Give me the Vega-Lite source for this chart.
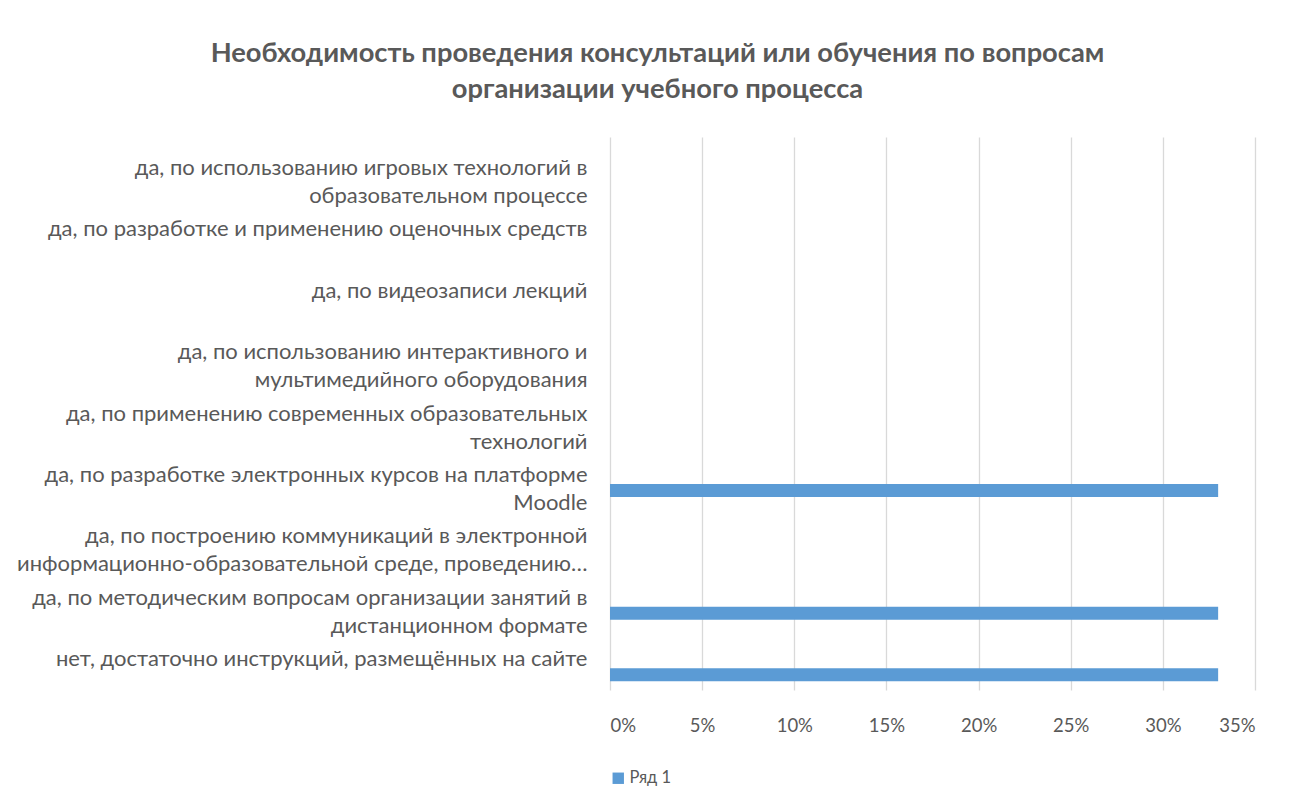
{
  "$schema": "https://vega.github.io/schema/vega-lite/v6.json",
  "width": 645,
  "height": 553,
  "autosize": {"type": "none"},
  "padding": {"left": 610, "top": 137, "right": 39, "bottom": 117},
  "background": "white",
  "title": {
    "text": ["Необходимость проведения консультаций или обучения по вопросам", "организации учебного процесса"],
    "anchor": "middle",
    "dx": -275,
    "offset": 34,
    "font": "Lato",
    "fontSize": 27.3,
    "fontWeight": "bold",
    "color": "#595959",
    "lineHeight": 36
  },
  "data": {
    "values": [
      {"category": "да, по использованию игровых технологий в|образовательном процессе", "value": 0, "series": "Ряд 1"},
      {"category": "да, по разработке и применению оценочных средств", "value": 0, "series": "Ряд 1"},
      {"category": "да, по видеозаписи лекций", "value": 0, "series": "Ряд 1"},
      {"category": "да, по использованию интерактивного и|мультимедийного оборудования", "value": 0, "series": "Ряд 1"},
      {"category": "да, по применению современных образовательных|технологий", "value": 0, "series": "Ряд 1"},
      {"category": "да, по разработке электронных курсов на платформе|Moodle", "value": 0.33, "series": "Ряд 1"},
      {"category": "да, по построению коммуникаций в электронной|информационно-образовательной среде, проведению…", "value": 0, "series": "Ряд 1"},
      {"category": "да, по методическим вопросам организации занятий в|дистанционном формате", "value": 0.33, "series": "Ряд 1"},
      {"category": "нет, достаточно инструкций, размещённых на сайте", "value": 0.33, "series": "Ряд 1"}
    ]
  },
  "mark": {"type": "bar", "height": 13, "yOffset": 15.5},
  "encoding": {
    "y": {
      "field": "category",
      "type": "nominal",
      "sort": null,
      "title": null,
      "scale": {"paddingInner": 0, "paddingOuter": 0},
      "axis": {
        "labelExpr": "split(datum.label, '|')",
        "labelFont": "Lato",
        "labelFontSize": 22,
        "labelColor": "#595959",
        "labelLineHeight": 28,
        "labelPadding": 23,
        "labelLimit": 700,
        "ticks": false,
        "domain": false,
        "grid": false
      }
    },
    "x": {
      "field": "value",
      "type": "quantitative",
      "title": null,
      "scale": {"domain": [0, 0.35], "nice": false},
      "axis": {
        "values": [0, 0.05, 0.1, 0.15, 0.2, 0.25, 0.3, 0.35],
        "format": ".0%",
        "labelFont": "Lato",
        "labelFontSize": 18.5,
        "labelColor": "#595959",
        "labelPadding": 26,
        "ticks": false,
        "domain": false,
        "grid": true,
        "gridColor": "#d9d9d9",
        "gridWidth": 1.3
      }
    },
    "color": {
      "field": "series",
      "type": "nominal",
      "scale": {"range": ["#5b9bd5"]},
      "legend": {
        "title": null,
        "orient": "none",
        "legendX": 0,
        "legendY": 633,
        "symbolType": "square",
        "symbolSize": 130,
        "symbolStrokeWidth": 0,
        "labelFont": "Lato",
        "labelFontSize": 16.5,
        "labelColor": "#595959",
        "labelOffset": 3
      }
    }
  },
  "config": {"view": {"stroke": null}}
}
